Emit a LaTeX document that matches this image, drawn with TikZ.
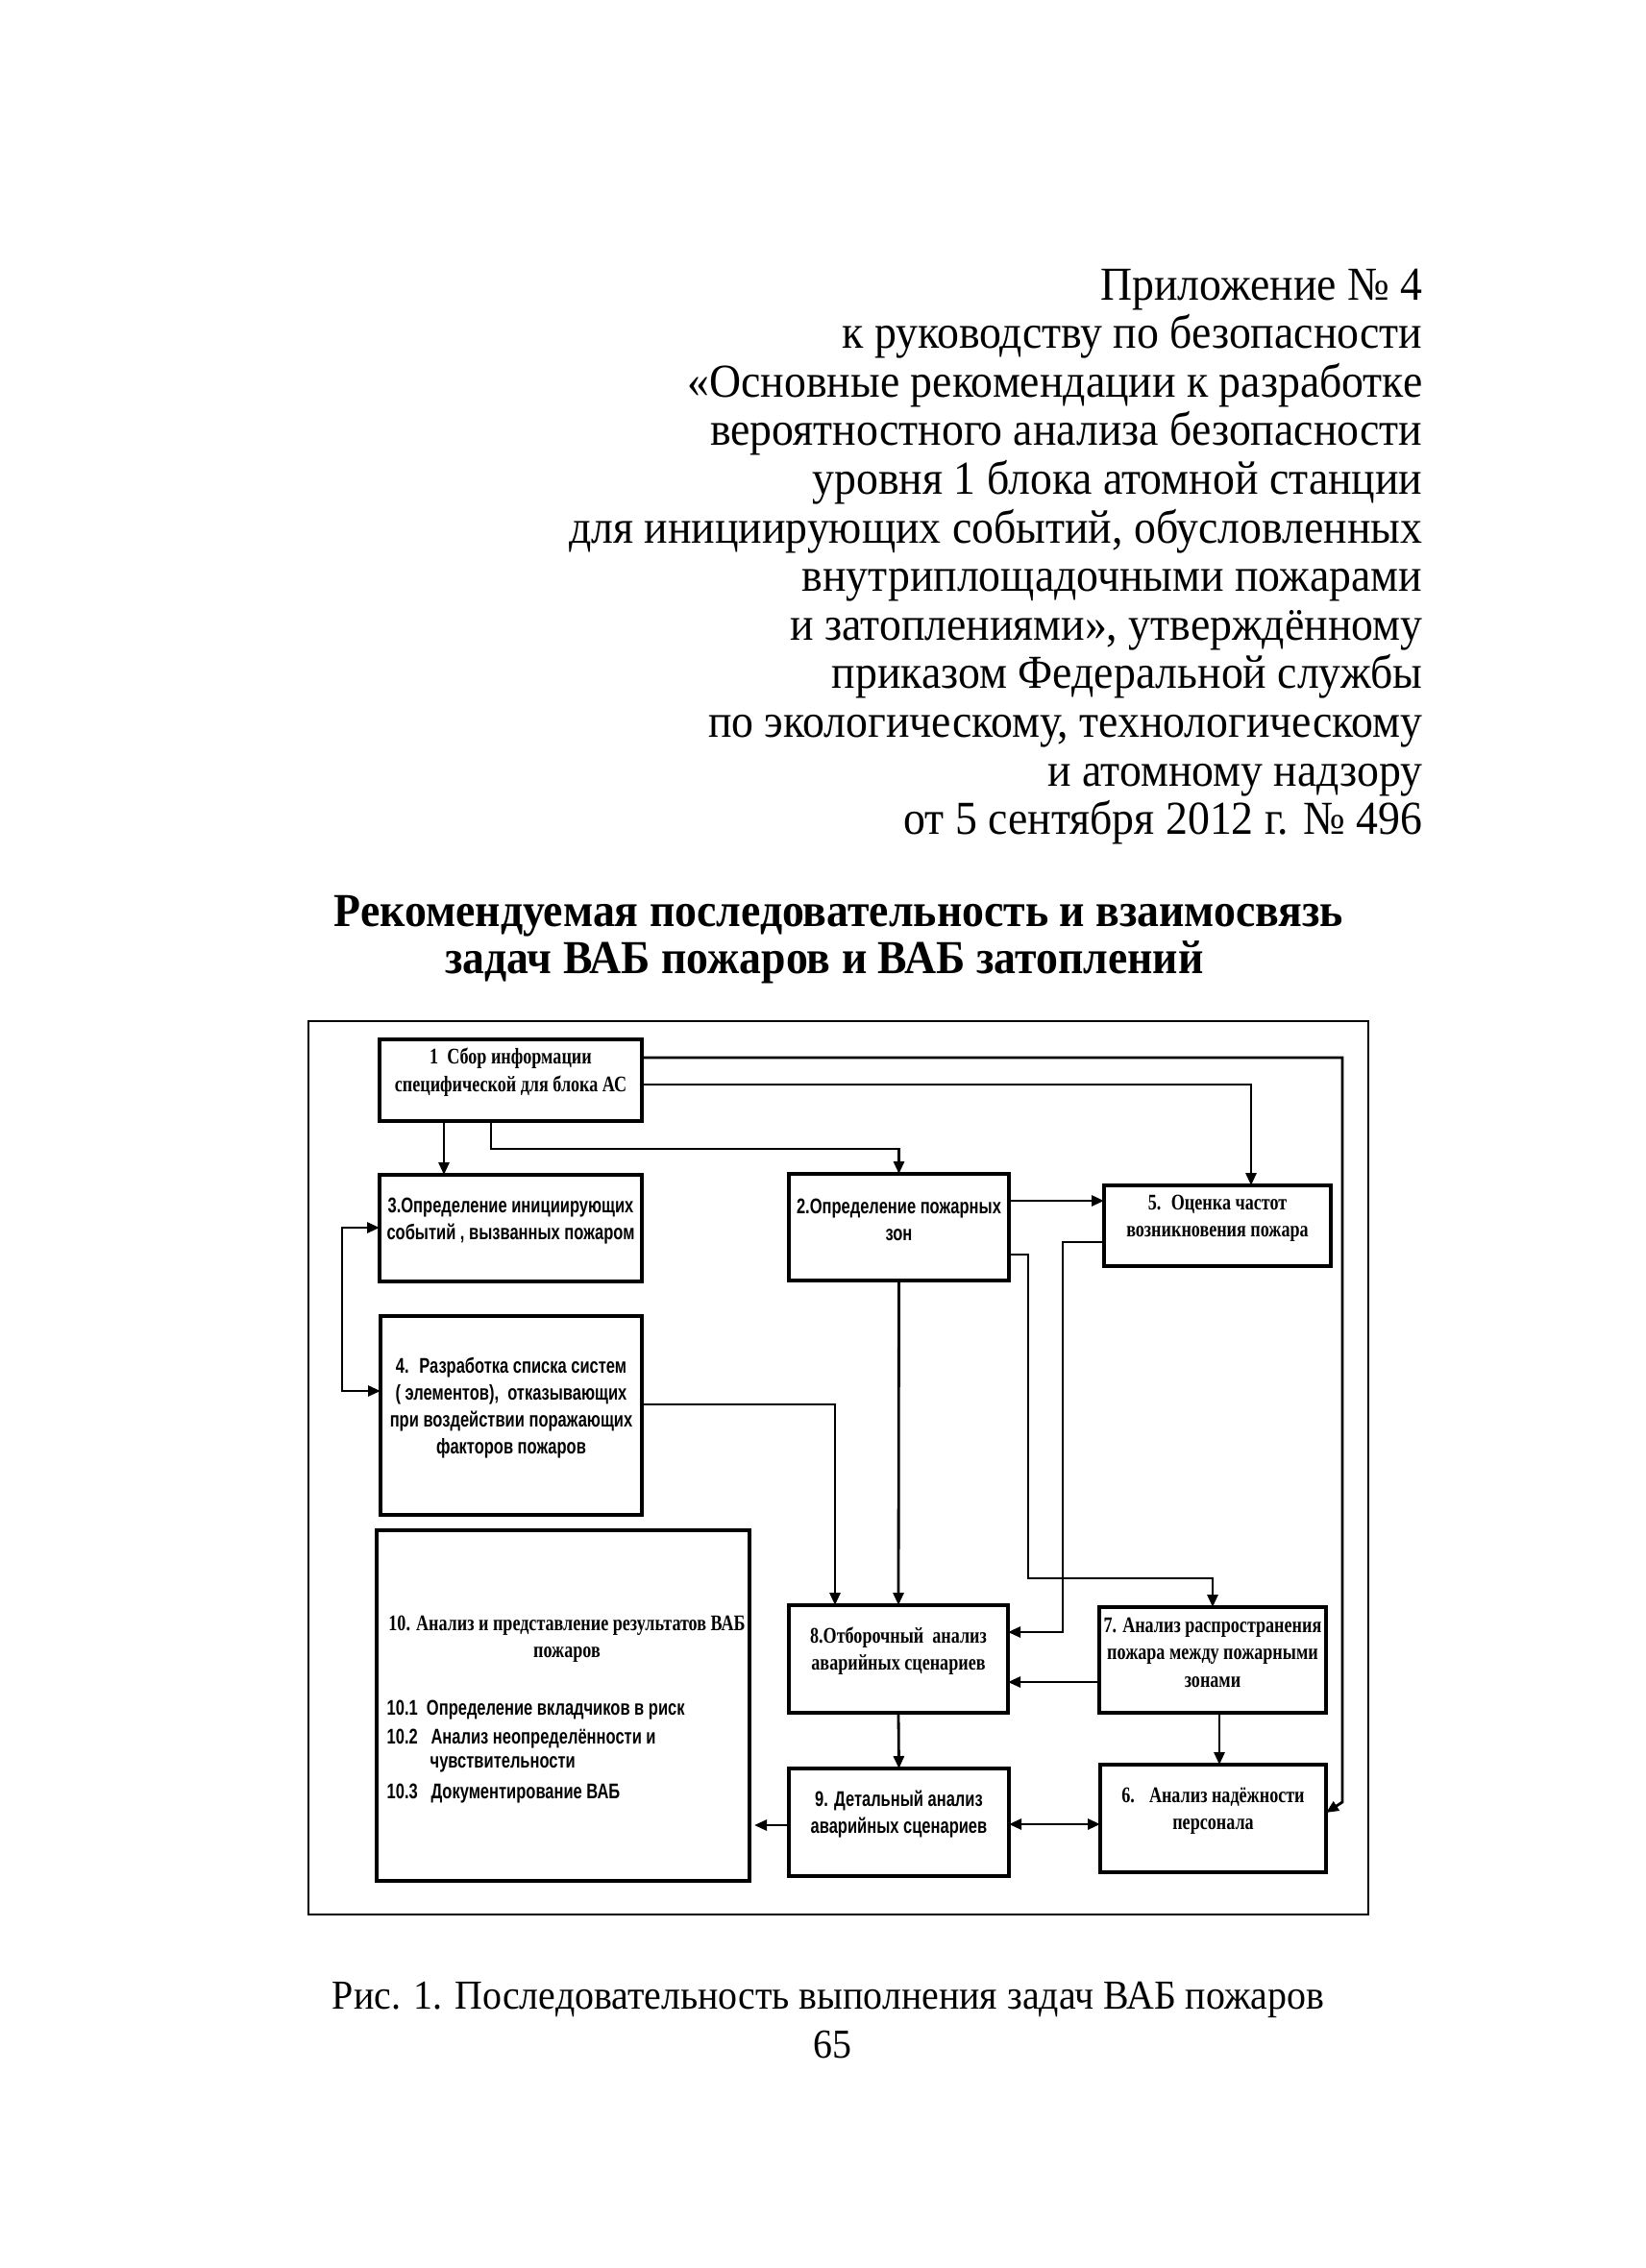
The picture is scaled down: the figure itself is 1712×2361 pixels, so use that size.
\documentclass[tikz,border=0pt]{standalone}
\usepackage{fontspec}
\setmainfont[FakeStretch=0.93]{Liberation Serif}
\newfontfamily\boxsans[FakeStretch=0.745]{Liberation Sans}
\newfontfamily\boxserif[FakeStretch=0.78]{Liberation Serif}
\usetikzlibrary{arrows.meta,fit}
\tikzset{
  box/.style={draw, line width=0.9pt, inner sep=0pt, outer sep=0pt, align=center},
  sf/.style={font=\boxsans\bfseries\fontsize{6.3pt}{8pt}\selectfont},
  sr/.style={font=\boxserif\bfseries\fontsize{6.6pt}{8pt}\selectfont},
  conn/.style={line width=0.8pt},
  arr/.style={conn, -{Triangle[length=1.3mm,width=1.1mm]}},
  darr/.style={conn, {Triangle[length=1.3mm,width=1.1mm]}-{Triangle[length=1.3mm,width=1.1mm]}},
  hdr/.style={font=\fontsize{14pt}{14.4pt}\selectfont, inner sep=0pt, anchor=base east},
  ttl/.style={font=\bfseries\fontsize{14pt}{14.4pt}\selectfont, inner sep=0pt, anchor=base},
  captext/.style={font=\fontsize{12.2pt}{14pt}\selectfont, inner sep=0pt, anchor=base},
}
\newcommand\pbox[7]{\node[box,#1,fit={(#3,#4) (#5,#6)}] (#2) {#7};}
\begin{document}
\begin{tikzpicture}[x=0.1mm,y=-0.1mm]
\useasboundingbox (0,0) rectangle (1712,2361);
% header
\foreach \t [count=\i from 0] in {%
  {Приложение № 4},
  {к руководству по безопасности},
  {«Основные рекомендации к разработке},
  {вероятностного анализа безопасности},
  {уровня 1 блока атомной станции},
  {для инициирующих событий, обусловленных},
  {внутриплощадочными пожарами},
  {и затоплениями», утверждённому},
  {приказом Федеральной службы},
  {по экологическому, технологическому},
  {и атомному надзору},
  {от 5 сентября 2012 г. № 496}}{
  \node[hdr] (h\i) at (1481,{312+50.6*\i}) {\t};
}
\node[ttl] (ti1) at (873,964) {Рекомендуемая последовательность и взаимосвязь};
\node[ttl] (ti2) at (858,1013) {задач ВАБ пожаров и ВАБ затоплений};
% frame
\draw[line width=0.8pt] (321,1063) rectangle (1424,1993);
% boxes
\pbox{sr}{b1}{395}{1082}{668}{1167}{1~ Сбор информации\\специфической для блока АС}
\pbox{sf}{b3}{395}{1223}{668}{1334}{3.Определение инициирующих\\событий , вызванных пожаром}
\pbox{sf}{b4}{396}{1370}{668}{1577}{4.~ Разработка списка систем\\( элементов),~ отказывающих\\при воздействии поражающих\\факторов пожаров\\[6pt]}
\pbox{sf}{b2}{821}{1222}{1050}{1333}{2.Определение пожарных\\зон}
\pbox{sr}{b5}{1149}{1234}{1385}{1318}{5.~ Оценка частот\\возникновения пожара}
\pbox{sr}{b8}{821}{1671}{1049}{1783}{8.Отборочный~ анализ\\аварийных сценариев}
\pbox{sr}{b7}{1144}{1673}{1380}{1783}{7. Анализ распространения\\пожара между пожарными\\зонами}
\pbox{sf}{b9}{821}{1841}{1050}{1953}{9. Детальный анализ\\аварийных сценариев}
\pbox{sr}{b6}{1145}{1837}{1380}{1949}{6.~~ Анализ надёжности\\персонала}
\node[box, fit={(392,1593) (780,1958)}] (b10) {};
\node[sr, inner sep=0pt, align=center] (b10h) at (590,1706) {10. Анализ и представление результатов ВАБ\\пожаров};
\node[sf, inner sep=0pt, anchor=west] (b10a) at (402,1780) {10.1~ Определение вкладчиков в риск};
\node[sf, inner sep=0pt, anchor=west] (b10b) at (402,1810) {10.2~~ Анализ неопределённости и};
\node[sf, inner sep=0pt, anchor=west] (b10c) at (447,1837) {чувствительности};
\node[sf, inner sep=0pt, anchor=west] (b10d) at (402,1867) {10.3~~ Документирование ВАБ};
% connectors
\draw[arr] (b1.south -| 462,0) -- (b3.north -| 462,0);
\draw[arr] (b1.south -| 511,0) -- (511,1196) -| (b2.north);
\draw[arr] (b1.east |- 0,1129) -| (b5.north -| 1302,0);
\draw[arr] (b1.east |- 0,1101) -- (1397,1101) -- (1397,1876) -- (b6.east |- 0,1887);
\draw[darr] (b3.west |- 0,1278) -- (356,1278) -- (356,1448) -- (b4.west |- 0,1448);
\draw[arr] (b4.east |- 0,1462) -| (b8.north -| 869,0);
\draw[arr] (b2.south) -- (b8.north);
\draw[arr] (b2.east |- 0,1250) -- (b5.west |- 0,1250);
\draw[arr] (b2.east |- 0,1306) -- (1070,1306) -- (1070,1643) -| (b7.north);
\draw[arr] (b5.west |- 0,1293) -- (1106,1293) |- (b8.east |- 0,1699);
\draw[arr] (b7.west |- 0,1751) -- (b8.east |- 0,1751);
\draw[arr] (b8.south) -- (b9.north);
\draw[arr] (b7.south -| 1269,0) -- (b6.north -| 1269,0);
\draw[darr] (b9.east |- 0,1899) -- (b6.west |- 0,1899);
\draw[arr, shorten >=0.5mm] (b9.west |- 0,1900) -- (b10.east |- 0,1900);
% caption
\node[captext] (cap) at (862,2091) {Рис. 1. Последовательность выполнения задач ВАБ пожаров};
\node[captext] (pg) at (866,2142) {65};
\end{tikzpicture}
\end{document}
